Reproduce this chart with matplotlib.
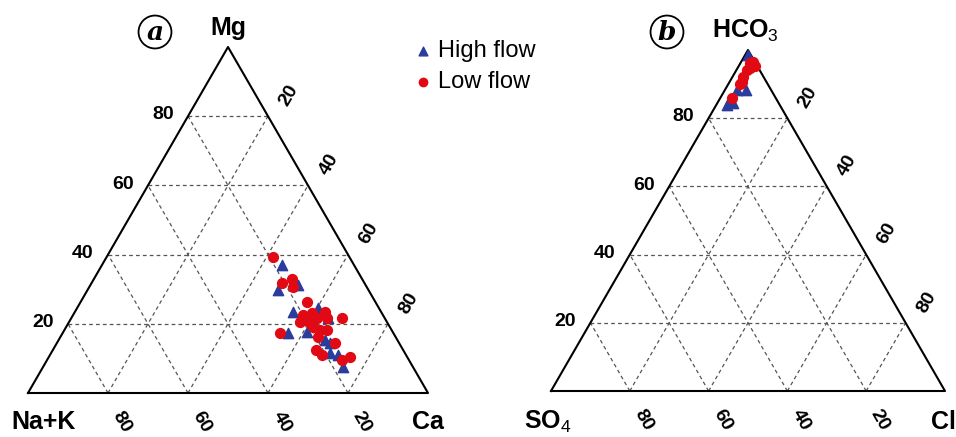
import numpy as np
import matplotlib
matplotlib.use("Agg")
import matplotlib.pyplot as plt

plt.rcParams['font.family'] = ['Liberation Sans', 'DejaVu Sans']
plt.rcParams['mathtext.fontset'] = 'custom'
plt.rcParams['mathtext.rm'] = 'Liberation Sans'
plt.rcParams['mathtext.default'] = 'regular'

# panel a: cations (Mg top, Ca right corner, Na+K left corner), percent
high_mg = [37.0, 29.8, 31.2, 23.4, 24.6, 21.7, 17.3, 17.6, 15.3, 14.5, 11.6, 11.0, 7.5]
high_ca = [45.0, 47.6, 51.9, 54.5, 60.2, 64.2, 56.3, 61.0, 66.6, 68.3, 69.7, 72.0, 75.0]
low_mg = [39.3, 31.8, 32.9, 30.6, 26.3, 22.5, 23.1, 21.7, 23.4, 21.7, 19.1, 18.2,
          18.2, 21.7, 17.3, 16.2, 14.5, 11.0, 9.5, 10.4, 20.5, 20.5, 12.4]
low_ca = [41.6, 47.6, 49.5, 50.9, 56.6, 57.5, 59.4, 61.4, 62.5, 63.9, 61.7, 63.9,
          65.6, 67.7, 54.3, 64.4, 69.5, 68.0, 73.7, 75.3, 57.7, 60.0, 65.8]

# panel b: anions (HCO3 top, Cl right corner, SO4 left corner), percent
high_hco3 = [98.5, 88.3, 85.3, 83.9, 84.5, 88.3]
high_cl = [0.8, 3.0, 2.8, 2.7, 3.9, 5.3]
low_hco3 = [96.2, 96.5, 94.1, 94.7, 92.1, 90.6, 90.0, 85.9, 95.3]
low_cl = [2.4, 3.0, 2.7, 3.1, 2.7, 3.2, 3.0, 3.0, 4.1]

ticks = [20, 40, 60, 80]
s3 = np.sqrt(3) / 2
blue = '#2b3c9c'
red = '#e10a14'


def txy(top, right):
    top = np.asarray(top, dtype=float)
    right = np.asarray(right, dtype=float)
    return right / 100 + top / 200, top / 100 * s3


def ternary(ax, top_lab, left_lab, right_lab, lab_off):
    ax.set_xlim(0, 1)
    ax.set_ylim(0, s3)
    ax.axis('off')
    ax.plot([0, 1, 0.5, 0], [0, 0, s3, 0], color='black', lw=1.5, zorder=3,
            clip_on=False)
    for v in ticks:
        for seg in [(txy(v, 0), txy(v, 100 - v)),
                    (txy(0, v), txy(100 - v, v)),
                    (txy(0, 100 - v), txy(100 - v, 0))]:
            ax.plot([seg[0][0], seg[1][0]], [seg[0][1], seg[1][1]],
                    color='#555555', lw=0.9, ls=(0, (3, 2.5)), zorder=1)
        kw = dict(textcoords='offset points', ha='center', va='center',
                  fontsize=14, fontweight='bold', annotation_clip=False)
        ax.annotate(str(v), txy(v, 0), xytext=(-18, 1), **kw)
        ax.annotate(str(v), txy(100 - v, v), xytext=(15, 15), rotation=60, **kw)
        ax.annotate(str(v), txy(0, 100 - v), xytext=(10, -21), rotation=-60, **kw)
    kw = dict(textcoords='offset points', ha='center', va='center',
              fontsize=18, fontweight='bold', annotation_clip=False)
    ax.annotate(top_lab, (0.5, s3), xytext=lab_off[0], **kw)
    ax.annotate(left_lab, (0, 0), xytext=lab_off[1], **kw)
    ax.annotate(right_lab, (1, 0), xytext=lab_off[2], **kw)


fig = plt.figure(figsize=(9.56, 4.37), dpi=100)
ax1 = fig.add_axes([28 / 956, 44 / 437, 400 / 956, 346 / 437])
ax2 = fig.add_axes([551 / 956, 46 / 437, 394 / 956, 341 / 437])

ternary(ax1, 'Mg', 'Na+K', 'Ca', [(0, 14), (11, -21), (0, -21)])
ternary(ax2, r'HCO$_\mathrm{3}$', r'SO$_\mathrm{4}$', 'Cl',
        [(-2, 14), (-2, -22), (-1, -22)])

hx, hy = txy(high_mg, high_ca)
lx, ly = txy(low_mg, low_ca)
ax1.scatter(hx, hy, marker='^', s=55, color=blue, zorder=4, label='High flow')
ax1.scatter(lx, ly, marker='o', s=50, color=red, zorder=5, label='Low flow')

hx, hy = txy(high_hco3, high_cl)
lx, ly = txy(low_hco3, low_cl)
ax2.scatter(hx, hy, marker='^', s=55, color=blue, zorder=4, clip_on=False)
ax2.scatter(lx, ly, marker='o', s=50, color=red, zorder=5, clip_on=False)

fig.legend(loc='upper left', bbox_to_anchor=(411 / 956, 1 - 40 / 437),
           frameon=False, fontsize=17, handlelength=1.0, handletextpad=0.15,
           labelspacing=0.4, borderpad=0, borderaxespad=0, markerscale=0.85)

for lab, x in [('a', 155), ('b', 667)]:
    fig.text(x / 956, 1 - 32 / 437, lab, ha='center', va='center',
             family='DejaVu Serif', style='italic', fontweight='bold', fontsize=19,
             bbox=dict(boxstyle='circle,pad=0.15', fc='white', ec='black', lw=1.3))

fig.savefig('out.png', dpi=100)
